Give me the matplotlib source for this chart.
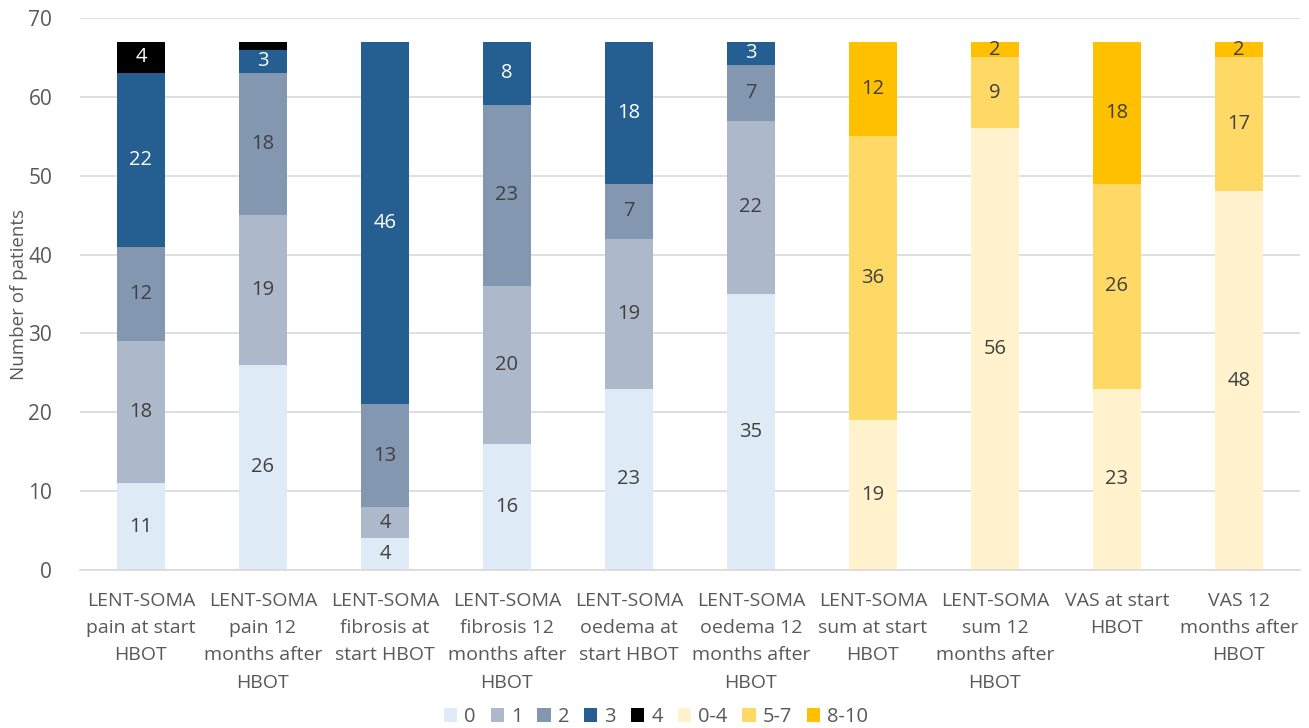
import matplotlib
matplotlib.use("Agg")
import matplotlib.pyplot as plt
import numpy as np

plt.rcParams['font.family'] = ['Open Sans', 'DejaVu Sans']

categories = [
    "LENT-SOMA\npain at start\nHBOT",
    "LENT-SOMA\npain 12\nmonths after\nHBOT",
    "LENT-SOMA\nfibrosis at\nstart HBOT",
    "LENT-SOMA\nfibrosis 12\nmonths after\nHBOT",
    "LENT-SOMA\noedema at\nstart HBOT",
    "LENT-SOMA\noedema 12\nmonths after\nHBOT",
    "LENT-SOMA\nsum at start\nHBOT",
    "LENT-SOMA\nsum 12\nmonths after\nHBOT",
    "VAS at start\nHBOT",
    "VAS 12\nmonths after\nHBOT",
]

# LENT-SOMA grade series (first 6 bars), zeros for the last 4
grade_0 = [11, 26, 4, 16, 23, 35, 0, 0, 0, 0]
grade_1 = [18, 19, 4, 20, 19, 22, 0, 0, 0, 0]
grade_2 = [12, 18, 13, 23, 7, 7, 0, 0, 0, 0]
grade_3 = [22, 3, 46, 8, 18, 3, 0, 0, 0, 0]
grade_4 = [4, 1, 0, 0, 0, 0, 0, 0, 0, 0]
# Sum / VAS score series (last 4 bars)
score_0_4 = [0, 0, 0, 0, 0, 0, 19, 56, 23, 48]
score_5_7 = [0, 0, 0, 0, 0, 0, 36, 9, 26, 17]
score_8_10 = [0, 0, 0, 0, 0, 0, 12, 2, 18, 2]

series_names = ["0", "1", "2", "3", "4", "0-4", "5-7", "8-10"]
series = [grade_0, grade_1, grade_2, grade_3, grade_4, score_0_4, score_5_7, score_8_10]
colors = ["#DEEBF7", "#ADB9CA", "#8497B0", "#255E91", "#000000", "#FFF2CC", "#FFD966", "#FFC000"]
label_colors = ["#404040", "#404040", "#404040", "white", "white", "#404040", "#404040", "#404040"]

FS = 14

fig = plt.figure(figsize=(13.09, 7.28), dpi=100)
ax = fig.add_axes([80/1309, 1 - 570/728, 1220/1309, 552/728])

x = np.arange(len(categories))
bottom = np.zeros(len(categories))
for name, vals, c, lc in zip(series_names, series, colors, label_colors):
    vals = np.array(vals, dtype=float)
    ax.bar(x, vals, width=0.4, bottom=bottom, color=c, label=name, zorder=2)
    for xi, v, b in zip(x, vals, bottom):
        if v >= 2:
            ax.text(xi, b + v / 2, f"{int(v)}", ha="center", va="center",
                    fontsize=14.5, color=lc, zorder=3)
    bottom += vals

ax.set_xlim(-0.5, len(categories) - 0.5)
ax.set_ylim(0, 70)
ax.set_yticks(range(0, 71, 10))
ax.yaxis.grid(True, color="#D9D9D9", linewidth=1.2, zorder=0)
ax.set_axisbelow(True)
for s in ["left", "right", "top"]:
    ax.spines[s].set_visible(False)
ax.spines["bottom"].set_color("#D9D9D9")
ax.spines["bottom"].set_linewidth(1.2)
ax.tick_params(axis="both", length=0, labelcolor="#595959")
ax.tick_params(axis="y", pad=20, labelsize=15)
ax.set_xticks(x)
ax.set_xticklabels(categories, linespacing=1.65, fontsize=FS)
ax.tick_params(axis="x", pad=16)
ax.set_ylabel("Number of patients", fontsize=FS - 0.5, color="#595959", labelpad=0)

handles, labels = ax.get_legend_handles_labels()
leg = fig.legend(handles, labels, loc="center", bbox_to_anchor=(656/1309, 1 - 717/728),
                 ncol=8, frameon=False, fontsize=FS + 0.5, handlelength=0.65, handleheight=0.65,
                 handletextpad=0.35, columnspacing=0.75, labelcolor="#595959")

fig.savefig("out.png", dpi=100)
